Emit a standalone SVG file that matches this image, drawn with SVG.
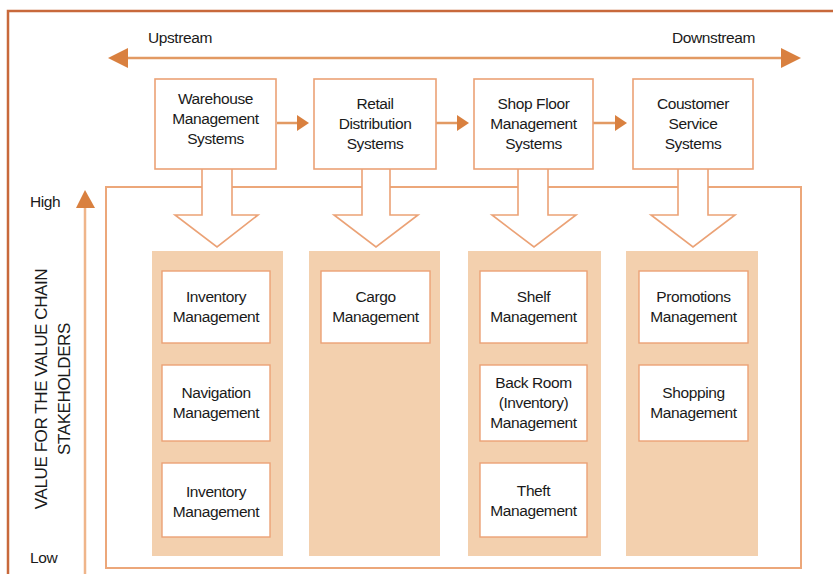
<svg xmlns="http://www.w3.org/2000/svg" width="833" height="574" viewBox="0 0 833 574">
<defs>
<style>
.t{font-family:"Liberation Sans",Arial,sans-serif;font-size:15.5px;fill:#1a1a1a;text-anchor:middle;letter-spacing:-0.4px}
.ax{font-family:"Liberation Sans",Arial,sans-serif;font-size:15.5px;fill:#1a1a1a;letter-spacing:-0.4px}
.box{fill:#fff;stroke:#eba276;stroke-width:1.6}
.ibox{fill:#fff;stroke:#eba276;stroke-width:1.4}
.col{fill:#f3d0ae}
.blk{fill:#fff;stroke:#eba276;stroke-width:1.6}
.ln{stroke:#e29a63;stroke-width:2.5;fill:none}
.ah{fill:#d9803f}
</style>
</defs>
<rect width="833" height="574" fill="#fff"/>
<rect x="8" y="11" width="850" height="590" fill="none" stroke="#c8693b" stroke-width="2.5"/>

<g id="flow-axis">
<line class="ln" x1="122" y1="58" x2="788" y2="58"/>
<polygon class="ah" points="108,58 128,48 128,68"/>
<polygon class="ah" points="801,58 781,48 781,68"/>
<text class="ax" x="148" y="43">Upstream</text>
<text class="ax" x="672" y="43">Downstream</text>
</g>

<g id="value-axis">
<line x1="85" y1="574" x2="85" y2="204" stroke="#efb58a" stroke-width="2.5"/>
<polygon class="ah" points="85,190 76,208 95,208"/>
<text class="ax" x="30" y="207">High</text>
<text class="ax" x="30" y="563">Low</text>
<text class="ax" transform="translate(47,389) rotate(-90)" text-anchor="middle" style="font-size:17px">VALUE FOR THE VALUE CHAIN</text>
<text class="ax" transform="translate(70,389) rotate(-90)" text-anchor="middle" style="font-size:17px">STAKEHOLDERS</text>
</g>

<g id="container">
<rect x="106" y="187" width="695" height="381" fill="none" stroke="#eca77a" stroke-width="2"/>
</g>

<g id="columns">
<rect class="col" x="152" y="251" width="131" height="305"/>
<rect class="col" x="309" y="251" width="131" height="305"/>
<rect class="col" x="468" y="251" width="133" height="305"/>
<rect class="col" x="626" y="251" width="132" height="305"/>
</g>

<g id="connectors">
<path class="blk" d="M202,169 V215 H175 L217,247 L258,215 H232 V169"/>
<path class="blk" d="M362,169 V215 H334 L376,247 L418,215 H390 V169"/>
<path class="blk" d="M518,169 V215 H492 L534,247 L576,215 H548 V169"/>
<path class="blk" d="M678,169 V215 H651 L693,247 L735,215 H708 V169"/>
<line class="ln" x1="277" y1="123" x2="299" y2="123"/>
<polygon class="ah" points="309,123 297,115 297,131"/>
<line class="ln" x1="436" y1="123" x2="459" y2="123"/>
<polygon class="ah" points="469,123 457,115 457,131"/>
<line class="ln" x1="593" y1="123" x2="617" y2="123"/>
<polygon class="ah" points="627,123 615,115 615,131"/>
</g>

<g id="warehouse">
<rect class="box" x="155" y="79" width="121" height="90"/>
<text class="t" x="215.5" y="104">Warehouse</text>
<text class="t" x="215.5" y="124">Management</text>
<text class="t" x="215.5" y="144">Systems</text>
</g>
<g id="retail">
<rect class="box" x="314" y="79" width="122" height="90"/>
<text class="t" x="375" y="109">Retail</text>
<text class="t" x="375" y="129">Distribution</text>
<text class="t" x="375" y="149">Systems</text>
</g>
<g id="shopfloor">
<rect class="box" x="474" y="79" width="119" height="90"/>
<text class="t" x="533.5" y="109">Shop Floor</text>
<text class="t" x="533.5" y="129">Management</text>
<text class="t" x="533.5" y="149">Systems</text>
</g>
<g id="customer">
<rect class="box" x="633" y="79" width="120" height="90"/>
<text class="t" x="693" y="109">Coustomer</text>
<text class="t" x="693" y="129">Service</text>
<text class="t" x="693" y="149">Systems</text>
</g>

<g id="inventory1">
<rect class="ibox" x="162" y="271" width="108" height="72"/>
<text class="t" x="216" y="302">Inventory</text>
<text class="t" x="216" y="322">Management</text>
</g>
<g id="navigation">
<rect class="ibox" x="162" y="365" width="108" height="76"/>
<text class="t" x="216" y="398">Navigation</text>
<text class="t" x="216" y="418">Management</text>
</g>
<g id="inventory2">
<rect class="ibox" x="162" y="463" width="108" height="74"/>
<text class="t" x="216" y="497">Inventory</text>
<text class="t" x="216" y="517">Management</text>
</g>
<g id="cargo">
<rect class="ibox" x="321" y="271" width="109" height="72"/>
<text class="t" x="375.5" y="302">Cargo</text>
<text class="t" x="375.5" y="322">Management</text>
</g>
<g id="shelf">
<rect class="ibox" x="480" y="271" width="107" height="72"/>
<text class="t" x="533.5" y="302">Shelf</text>
<text class="t" x="533.5" y="322">Management</text>
</g>
<g id="backroom">
<rect class="ibox" x="480" y="365" width="107" height="76"/>
<text class="t" x="533.5" y="388">Back Room</text>
<text class="t" x="533.5" y="408">(Inventory)</text>
<text class="t" x="533.5" y="428">Management</text>
</g>
<g id="theft">
<rect class="ibox" x="480" y="463" width="107" height="74"/>
<text class="t" x="533.5" y="496">Theft</text>
<text class="t" x="533.5" y="516">Management</text>
</g>
<g id="promotions">
<rect class="ibox" x="639" y="271" width="109" height="72"/>
<text class="t" x="693.5" y="302">Promotions</text>
<text class="t" x="693.5" y="322">Management</text>
</g>
<g id="shopping">
<rect class="ibox" x="639" y="365" width="109" height="76"/>
<text class="t" x="693.5" y="398">Shopping</text>
<text class="t" x="693.5" y="418">Management</text>
</g>
</svg>
